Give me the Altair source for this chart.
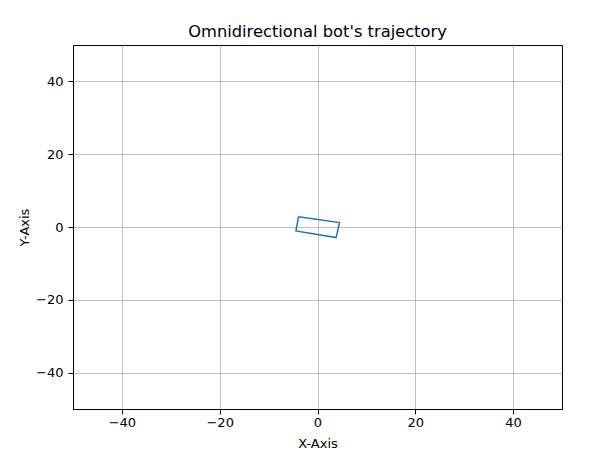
import altair as alt
import pandas as pd

xs = [-3.9, 4.5, 3.8, -4.4, -3.9]
ys = [2.8, 1.2, -2.9, -1.1, 2.8]
order = [0, 1, 2, 3, 4]
ticks = [-40, -20, 0, 20, 40]

df = pd.DataFrame({"x": xs, "y": ys, "o": order})

font = "DejaVu Sans"

def ax(title, pad, lpad):
    return alt.Axis(
        title=title, values=ticks, grid=True, gridColor="#b0b0b0", gridWidth=0.8,
        domainColor="black", domainWidth=1, tickColor="black", tickSize=5,
        labelFont=font, labelFontSize=13, labelColor="black",
        titleFont=font, titleFontSize=13, titleFontWeight="normal", titleColor="black",
        titlePadding=pad, labelPadding=lpad,
    )

chart = alt.Chart(df).mark_line(color="#1f77b4", strokeWidth=1.5).encode(
    x=alt.X("x:Q", scale=alt.Scale(domain=[-50, 50], nice=False, zero=False), axis=ax("X-Axis", 8, 2)),
    y=alt.Y("y:Q", scale=alt.Scale(domain=[-50, 50], nice=False, zero=False), axis=ax("Y-Axis", 4, 5)),
    order="o:O",
).properties(
    width=489, height=364,
    title=alt.TitleParams("Omnidirectional bot's trajectory", font=font, fontSize=16.3,
                          fontWeight="normal", color="black", offset=5),
    padding={"left": 65, "top": 37, "right": 30, "bottom": 42},
    autosize=alt.AutoSizeParams(type="none"),
).configure_view(stroke="black", strokeWidth=1)

chart.save("out.html", embed_options={"renderer": "svg", "actions": False})
